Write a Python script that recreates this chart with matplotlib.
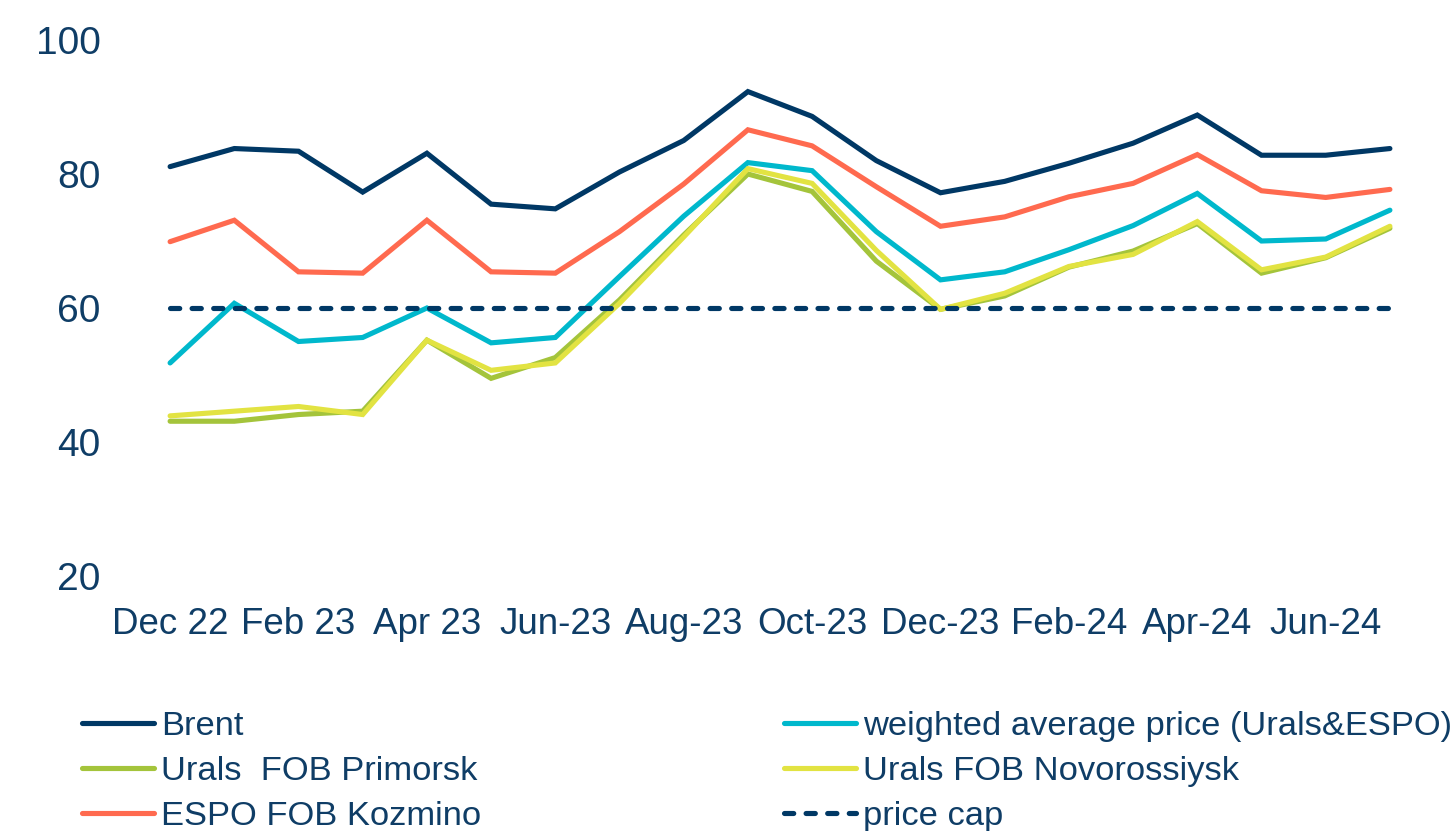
import matplotlib
matplotlib.use("Agg")
import matplotlib.pyplot as plt

plt.rcParams['font.family'] = ['Liberation Sans', 'DejaVu Sans']

months = ["Dec 22", "Jan 23", "Feb 23", "Mar 23", "Apr 23", "May 23", "Jun-23", "Jul-23",
          "Aug-23", "Sep-23", "Oct-23", "Nov-23", "Dec-23", "Jan-24", "Feb-24", "Mar-24",
          "Apr-24", "May-24", "Jun-24", "Jul-24"]
tick_labels = ["Dec 22", "Feb 23", "Apr 23", "Jun-23", "Aug-23", "Oct-23",
               "Dec-23", "Feb-24", "Apr-24", "Jun-24"]

brent = [81.1, 83.8, 83.4, 77.3, 83.1, 75.5, 74.8, 80.3, 85.0, 92.3,
         88.6, 82.0, 77.2, 78.9, 81.6, 84.6, 88.8, 82.8, 82.8, 83.8]
weighted = [51.8, 60.7, 55.0, 55.6, 60.0, 54.8, 55.6, 64.7, 73.7, 81.7,
            80.5, 71.4, 64.2, 65.4, 68.7, 72.3, 77.1, 70.0, 70.3, 74.6]
primorsk = [43.1, 43.1, 44.1, 44.6, 55.2, 49.5, 52.6, 61.2, 70.9, 80.0,
            77.4, 67.0, 59.8, 61.8, 66.1, 68.5, 72.6, 65.2, 67.5, 71.9]
novorossiysk = [43.9, 44.6, 45.3, 44.1, 55.2, 50.7, 51.8, 60.7, 70.6, 80.8,
                78.6, 68.6, 59.8, 62.2, 66.2, 68.0, 72.9, 65.7, 67.6, 72.2]
espo = [69.9, 73.1, 65.4, 65.2, 73.1, 65.4, 65.2, 71.4, 78.5, 86.6,
        84.2, 78.1, 72.2, 73.6, 76.6, 78.6, 82.9, 77.5, 76.5, 77.7]
price_cap = [60] * 20

labels = ["Brent", "weighted average price (Urals&ESPO)", "Urals  FOB Primorsk",
          "Urals FOB Novorossiysk", "ESPO FOB Kozmino", "price cap"]

NAVY = "#003865"
TEXT = "#0F3D66"
colors = [NAVY, "#00B8CC", "#A4C43B", "#E2E342", "#FF6A4F", NAVY]

W, H = 1455, 831
fig = plt.figure(figsize=(W / 100, H / 100), dpi=100)
left, right, top, bottom = 138, 1422, 40, 576
ax = fig.add_axes([left / W, 1 - bottom / H, (right - left) / W, (bottom - top) / H])

x = list(range(len(months)))
series = [brent, weighted, primorsk, novorossiysk, espo]
handles = []
for s, c, lab in zip(series, colors[:5], labels[:5]):
    h, = ax.plot(x, s, color=c, lw=3.7, solid_capstyle='round', solid_joinstyle='miter', label=lab)
    handles.append(h)
hc, = ax.plot(x, price_cap, color=NAVY, lw=3.7, linestyle=(0, (1.8, 2.4)),
              dash_capstyle='round', label=labels[5])
handles.append(hc)

ax.set_xlim(-0.5, len(months) - 0.5)
ax.set_ylim(20, 100)
ax.set_yticks([20, 40, 60, 80, 100])
ax.set_xticks(x[::2])
ax.set_xticklabels(tick_labels)
ax.tick_params(axis='both', length=0, colors=TEXT)
ax.tick_params(axis='y', labelsize=28, pad=27)
ax.tick_params(axis='x', labelsize=26.5, pad=22)
for sp in ax.spines.values():
    sp.set_visible(False)

leg_kw = dict(frameon=False, fontsize=24.8, handlelength=2.1, handletextpad=0.2,
              labelspacing=0.4, borderpad=0, borderaxespad=0, labelcolor=TEXT)
order_left = [0, 2, 4]
order_right = [1, 3, 5]
leg1 = fig.legend([handles[i] for i in order_left], [labels[i] for i in order_left],
                  loc='upper left', bbox_to_anchor=(82 / W, 1 - 711 / H), **leg_kw)
leg2 = fig.legend([handles[i] for i in order_right], [labels[i] for i in order_right],
                  loc='upper left', bbox_to_anchor=(784 / W, 1 - 711 / H), **leg_kw)

fig.savefig("out.png", dpi=100)
